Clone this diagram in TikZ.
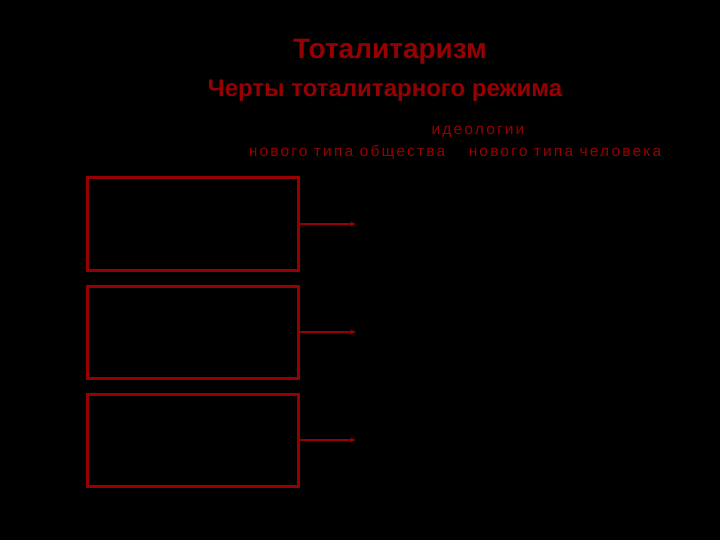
\documentclass[tikz,border=0pt]{standalone}
\usepackage{fontspec}
\setmainfont{Liberation Sans}
\newfontfamily\widefont[LetterSpace=14]{Liberation Sans}
\usetikzlibrary{arrows.meta}
\definecolor{darkred}{RGB}{150,0,0}
\begin{document}
\begin{tikzpicture}[x=1pt,y=-1pt,
  box/.style={draw=darkred,line width=3pt,minimum width=211pt,minimum height=92pt,inner sep=0pt},
  lbl/.style={text=darkred,inner sep=0pt},
  small/.style={lbl,font=\widefont\fontsize{15.5}{18}\selectfont}]
\fill[black] (0,0) rectangle (720,540);
\useasboundingbox (0,0) rectangle (720,540);
\node[lbl,font=\bfseries\fontsize{28}{32}\selectfont] (title) at (390,52) {Тоталитаризм};
\node[lbl,font=\bfseries\fontsize{24}{28}\selectfont] (sub) at (385,91) {Черты тоталитарного режима};
\node[small] (ideo) at (478,132) {идеологии};
\node[small] (soc) at (347,152) {нового типа общества};
\node[small] (man) at (565,152) {нового типа человека};
\node[box] (b1) at (192.5,224) {};
\node[box] (b2) at (192.5,332) {};
\node[box] (b3) at (192.5,440) {};
\coordinate (e1) at (356,224);
\coordinate (e2) at (356,332);
\coordinate (e3) at (356,440);
\draw[darkred,line width=2pt,-{Stealth[length=6pt,width=5pt]}] (b1.east) -- (e1);
\draw[darkred,line width=2pt,-{Stealth[length=6pt,width=5pt]}] (b2.east) -- (e2);
\draw[darkred,line width=2pt,-{Stealth[length=6pt,width=5pt]}] (b3.east) -- (e3);
\end{tikzpicture}
\end{document}
